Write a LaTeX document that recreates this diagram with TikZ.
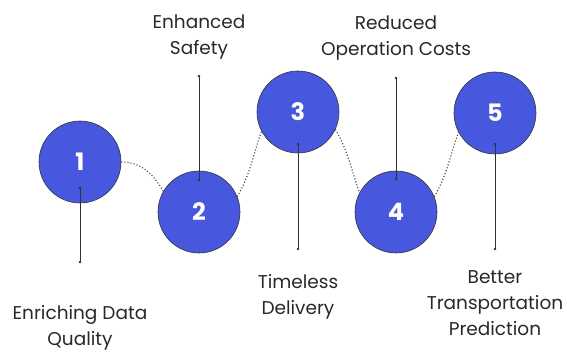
\documentclass[tikz,border=0pt]{standalone}
\usepackage{fontspec}
\setmainfont{Poppins}
\usetikzlibrary{positioning}
\definecolor{stepblue}{RGB}{72,88,222}
\definecolor{textgray}{RGB}{40,40,40}

\begin{document}
\begin{tikzpicture}[x=1pt, y=1pt,
	stage/.style={draw=black!80, line width=0.6pt, circle, fill=stepblue, minimum size=82pt, inner sep=0pt, text=white, font=\fontsize{24}{24}\selectfont\bfseries},
	label/.style={inner sep=0pt, align=center, text=textgray, font=\fontsize{18.5}{26}\selectfont},
	pin/.style={line width=0.6pt, draw=black!80},
	path/.style={dotted, line width=1.1pt, draw=black!75}]
	\useasboundingbox (0,0) rectangle (567,352);
	\begin{scope}[node distance=17pt]
	\node (c1) [stage] at (80,190) {1};
	\node (c2) [stage] at (199,140) {2};
	\node (c3) [stage] at (298,240) {3};
	\node (c4) [stage] at (396,140) {4};
	\node (c5) [stage] at (495,239) {5};
	
	\draw [path] (c1.east) to[out=0, in=120] (c2.150);
	\draw [path] (c2.22) to[out=60, in=250] (c3.208);
	\draw [path] (c3.-25) to[out=-60, in=110] (c4.152);
	\draw [path] (c4.22) to[out=60, in=250] (c5.208);
	
	% pins
	\coordinate (d1) at (80,164);
	\coordinate (e1) at (80,90);
	\coordinate (d2) at (199,172);
	\coordinate (e2) at (199,276);
	\coordinate (d3) at (298,208);
	\coordinate (e3) at (298,103);
	\coordinate (d4) at (396,173);
	\coordinate (e4) at (396,274);
	\coordinate (d5) at (495,208);
	\coordinate (e5) at (495,103);
	\foreach \i in {1,...,5} {
		\draw [pin] (d\i) -- (e\i);
		\fill [black!80] (d\i) circle (1.4pt) (e\i) circle (1.4pt);
	}
	
	\node (l1) [label, below=43pt of e1] {Enriching Data\\Quality};
	\node (l2) [label, above=of e2] {Enhanced\\Safety};
	\node (l3) [label, below=25pt of e3] {Timeless\\Delivery};
	\node (l4) [label, above=of e4] {Reduced\\Operation Costs};
	\node (l5) [label, below=21pt of e5] {Better\\Transportation\\Prediction};
	\end{scope}
\end{tikzpicture}
\end{document}
